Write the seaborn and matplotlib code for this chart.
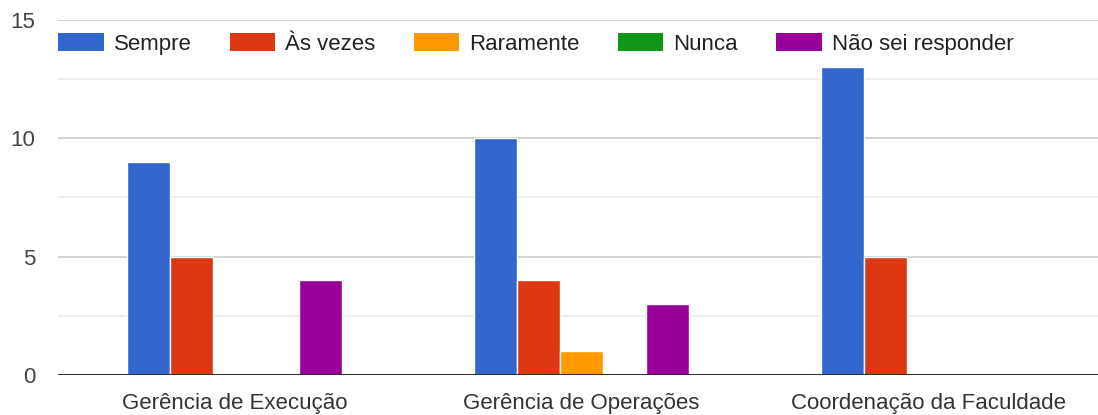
import matplotlib
matplotlib.use("Agg")
import matplotlib.pyplot as plt
from matplotlib.patches import Patch
import seaborn as sns
import pandas as pd

# Survey answers per department
categories = ["Gerência de Execução", "Gerência de Operações", "Coordenação da Faculdade"]
series_names = ["Sempre", "Às vezes", "Raramente", "Nunca", "Não sei responder"]
sempre = [9, 10, 13]
as_vezes = [5, 4, 5]
raramente = [0, 1, 0]
nunca = [0, 0, 0]
nao_sei = [4, 3, 0]
y_ticks = [0, 5, 10, 15]

colors = ["#3366cc", "#dc3912", "#ff9900", "#109618", "#990099"]

rows = []
for name, vals in zip(series_names, [sempre, as_vezes, raramente, nunca, nao_sei]):
    for cat, v in zip(categories, vals):
        rows.append({"categoria": cat, "resposta": name, "valor": v})
df = pd.DataFrame(rows)

sns.set_theme(style="white")
plt.rcParams["font.family"] = ["Liberation Sans", "DejaVu Sans"]

fig = plt.figure(figsize=(10.98, 4.15), dpi=100)
ax = fig.add_axes([58 / 1098, 1 - 375 / 415, 1 - 58 / 1098, (375 - 20) / 415])

sns.barplot(data=df, x="categoria", y="valor", hue="resposta",
            order=categories, hue_order=series_names, palette=colors,
            width=0.62, edgecolor="white", linewidth=1, saturation=1,
            legend=False, ax=ax, zorder=3)

ax.set_ylim(0, 15)
ax.set_xlim(-0.51, 2.49)

# gridlines: major every 5, lighter minor lines halfway
for y in [2.5, 7.5, 12.5]:
    ax.axhline(y, color="#ebebeb", lw=1.2, zorder=1)
for y in [5, 10, 15]:
    ax.axhline(y, color="#cccccc", lw=1.2, zorder=1)
ax.axhline(0, color="#333333", lw=2.2, zorder=6)

ax.set_yticks(y_ticks)
ax.set_yticklabels([str(t) for t in y_ticks])
ax.tick_params(axis="y", length=0, pad=16.5, labelsize=16, labelcolor="#444444")
ax.tick_params(axis="x", length=0, pad=13, labelsize=16, labelcolor="#333333")
ax.set_xlabel("")
ax.set_ylabel("")
for s in ax.spines.values():
    s.set_visible(False)

handles = [Patch(facecolor=c, edgecolor="none", label=n) for c, n in zip(colors, series_names)]
leg = ax.legend(handles=handles, loc="center left", bbox_to_anchor=(0, 1 - 24 / 355),
                ncol=5, frameon=False, fontsize=16, handlelength=2.05, handleheight=0.9,
                handletextpad=0.45, columnspacing=1.72, borderaxespad=0, borderpad=0)
for t in leg.get_texts():
    t.set_color("#222222")

fig.savefig("out.png", dpi=100)
